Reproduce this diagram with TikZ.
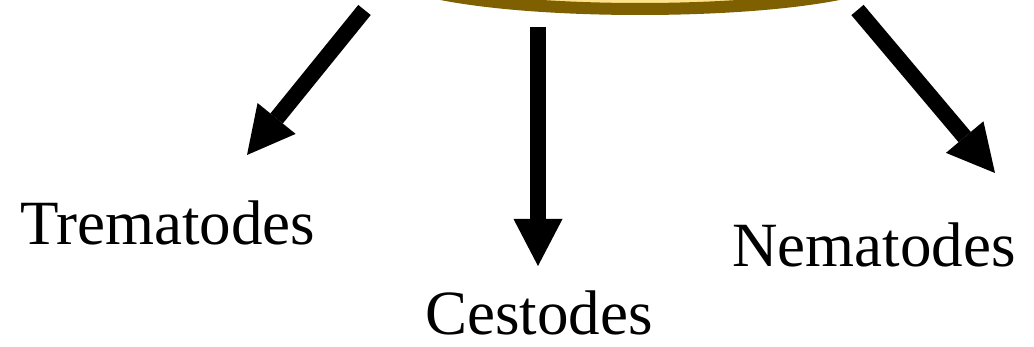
\documentclass[tikz,border=0pt]{standalone}
\usepackage{fontspec}
\setmainfont{Liberation Serif}
\usetikzlibrary{arrows.meta}
\definecolor{rimgold}{HTML}{7F6000}
\definecolor{fillgold}{HTML}{FFE38C}
\tikzset{
  label/.style={inner sep=0pt, anchor=base west, font=\fontsize{63}{70}\selectfont},
  bigarrow/.style={line width=16pt, -{Triangle[length=47pt,width=49pt,line width=0pt]}},
}
\begin{document}
\begin{tikzpicture}[x=1pt,y=-1pt]
\useasboundingbox (0,0) rectangle (1034,347);
\clip (0,0) rectangle (1034,347);
\draw[rimgold, fill=fillgold, line width=12pt] (640,-29) ellipse [x radius=250, y radius=38];
\coordinate (s1) at (364.5,10);
\coordinate (t1) at (247,155);
\coordinate (s2) at (538,27);
\coordinate (t2) at (538,266);
\coordinate (s3) at (857.5,10);
\coordinate (t3) at (995,173);
\node[label] (trem) at (20,245) {Trematodes};
\node[label] (cest) at (425,335) {Cestodes};
\node[label] (nema) at (732,267) {Nematodes};
\draw[bigarrow] (s1) -- (t1);
\draw[bigarrow] (s2) -- (t2);
\draw[bigarrow] (s3) -- (t3);
\end{tikzpicture}
\end{document}
